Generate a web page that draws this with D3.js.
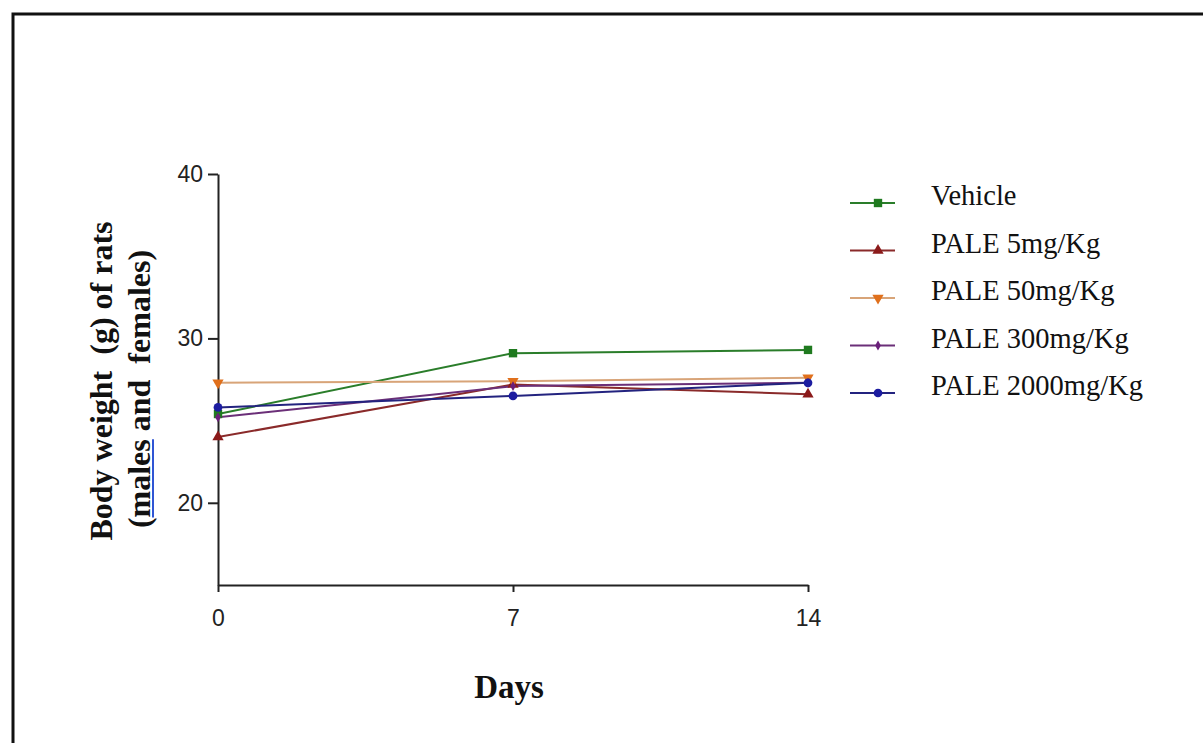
<!DOCTYPE html>
<html>
<head>
<meta charset="utf-8">
<script src="https://cdn.jsdelivr.net/npm/d3@7"></script>
<style>
  body { margin: 0; background: #fff; }
  svg { display: block; }
</style>
</head>
<body>
<div id="chart"></div>
<script>
// ---- data ----
const days = [0, 7, 14];
const seriesNames = ["Vehicle", "PALE 5mg/Kg", "PALE 50mg/Kg", "PALE 300mg/Kg", "PALE 2000mg/Kg"];
const vehicle = [25.4, 29.1, 29.3];
const pale5 = [24.0, 27.2, 26.6];
const pale50 = [27.3, 27.4, 27.6];
const pale300 = [25.2, 27.1, 27.3];
const pale2000 = [25.8, 26.5, 27.3];
const yTicks = [20, 30, 40];

const lineColors = ["#2a7d2a", "#8a2a2a", "#d8a478", "#6b2f78", "#23237f"];
const markColors = ["#1f7a1f", "#8b1a1a", "#e0701c", "#6a1f7a", "#1c1ca0"];
const symbols = [d3.symbolSquare, d3.symbolTriangle, d3.symbolTriangle, d3.symbolDiamond, d3.symbolCircle];
const symSizes = [70, 55, 55, 28, 60];
const symRotate = [0, 0, 180, 0, 0];

const allSeries = [vehicle, pale5, pale50, pale300, pale2000];

// ---- setup ----
const W = 1203, H = 743;
const serif = "'Liberation Serif', 'Times New Roman', serif";
const svg = d3.select("#chart").append("svg")
    .attr("width", W).attr("height", H);

// frame (top + left edges of the cropped figure border)
svg.append("path")
    .attr("d", `M13,${H} L13,14 L${W},14`)
    .attr("fill", "none")
    .attr("stroke", "#111")
    .attr("stroke-width", 3);

const x = d3.scaleLinear().domain([0, 14]).range([218, 808]);
const y = d3.scaleLinear().domain([15, 40]).range([585, 174]);

// axes
const xAxis = svg.append("g")
    .attr("transform", `translate(0,${y(15)})`)
    .call(d3.axisBottom(x).tickValues(days).tickSize(7).tickSizeOuter(0)
        .tickPadding(18).tickFormat(d3.format("d")));
const yAxis = svg.append("g")
    .attr("transform", `translate(${x(0)},0)`)
    .call(d3.axisLeft(y).tickValues(yTicks).tickSize(10).tickSizeOuter(0).tickPadding(5));

[xAxis, yAxis].forEach(g => {
    g.select(".domain").attr("stroke", "#222").attr("stroke-width", 2);
    g.selectAll(".tick line").attr("stroke", "#222").attr("stroke-width", 2);
    g.selectAll(".tick text")
        .attr("fill", "#222")
        .style("font-family", "Arial, 'Liberation Sans', sans-serif")
        .style("font-size", "23px");
});

// ---- lines + markers ----
const line = d3.line()
    .x((d, i) => x(days[i]))
    .y(d => y(d));

allSeries.forEach((vals, s) => {
    svg.append("path")
        .datum(vals)
        .attr("d", line)
        .attr("fill", "none")
        .attr("stroke", lineColors[s])
        .attr("stroke-width", 2);
});

allSeries.forEach((vals, s) => {
    svg.selectAll(".m" + s)
        .data(vals)
        .enter()
        .append("path")
        .attr("class", "m" + s)
        .attr("d", d3.symbol().type(symbols[s]).size(symSizes[s]))
        .attr("transform", (d, i) => `translate(${x(days[i])},${y(d)}) rotate(${symRotate[s]})`)
        .attr("fill", markColors[s]);
});

// ---- legend ----
const legend = svg.append("g").attr("transform", "translate(850,203)");
seriesNames.forEach((name, s) => {
    const g = legend.append("g").attr("transform", `translate(0,${s * 47.5})`);
    g.append("line")
        .attr("x1", 0).attr("x2", 45)
        .attr("stroke", lineColors[s]).attr("stroke-width", 2);
    g.append("path")
        .attr("d", d3.symbol().type(symbols[s]).size(symSizes[s]))
        .attr("transform", `translate(28,0) rotate(${symRotate[s]})`)
        .attr("fill", markColors[s]);
    g.append("text")
        .attr("x", 81).attr("y", 2)
        .style("font-family", serif)
        .style("font-size", "28.5px")
        .attr("fill", "#111")
        .text(name);
});

// ---- axis titles ----
svg.append("text")
    .attr("x", 509).attr("y", 698)
    .attr("text-anchor", "middle")
    .style("font-family", serif)
    .style("font-weight", "bold")
    .style("font-size", "33px")
    .attr("fill", "#111")
    .text("Days");

const yTitleG = svg.append("g").attr("transform", "translate(112,381) rotate(-90)");
const yTitle = yTitleG.append("text")
    .attr("text-anchor", "middle")
    .style("font-family", serif)
    .style("font-weight", "bold")
    .style("font-size", "32px")
    .style("white-space", "pre")
    .attr("fill", "#111");
yTitle.append("tspan").attr("x", 0).attr("y", 0).text("Body weight  (g) of rats");
const l2 = yTitle.append("tspan").attr("x", -8).attr("y", 38).text("(males and  females)");

// blue underline under "males" (as in the source figure)
const total = l2.node().getComputedTextLength();
const wParen = l2.node().getSubStringLength(0, 1);
const wMales = l2.node().getSubStringLength(1, 5);
const ux0 = -8 - total / 2 + wParen;
yTitleG.append("line")
    .attr("x1", ux0).attr("x2", ux0 + wMales)
    .attr("y1", 41).attr("y2", 41)
    .attr("stroke", "#2f55d4").attr("stroke-width", 2);
</script>
</body>
</html>
